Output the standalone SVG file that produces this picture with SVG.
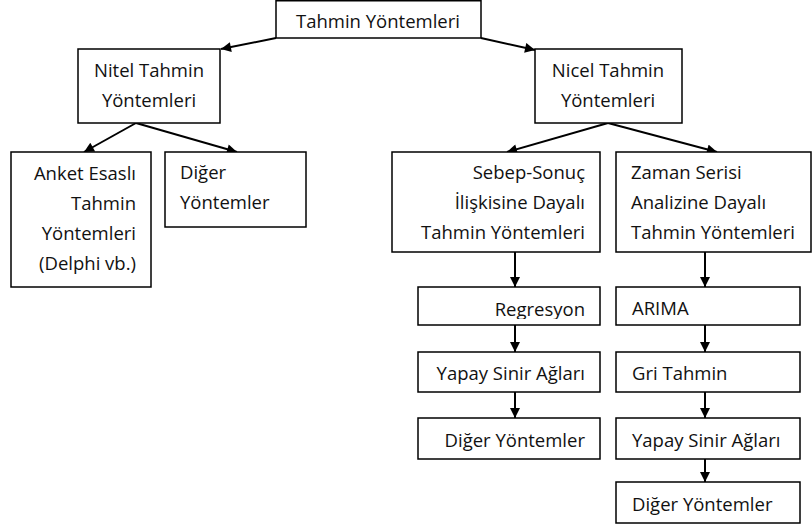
<svg xmlns="http://www.w3.org/2000/svg" width="812" height="527" viewBox="0 0 812 527">
  <style>
    .box { fill: #ffffff; stroke: #000000; stroke-width: 1.5; }
    .t { font-family: "Open Sans", "Liberation Sans", sans-serif; font-size: 18.5px; fill: #111111; }
    .mid { text-anchor: middle; }
    .end { text-anchor: end; }
    .link { stroke: #000000; stroke-width: 2; fill: none; marker-end: url(#head); }
  </style>
  <defs>
    <marker id="head" viewBox="0 0 10 10" refX="10" refY="5" markerWidth="12" markerHeight="10" markerUnits="userSpaceOnUse" orient="auto">
      <path d="M0,0 L10,5 L0,10 Z" fill="#000000"/>
    </marker>
    <clipPath id="regClip">
      <rect x="418" y="287" width="182" height="32"/>
    </clipPath>
  </defs>
  <rect width="812" height="527" fill="#ffffff"/>

  <!-- connectors -->
  <g id="connectors">
    <line class="link" x1="276" y1="38" x2="221" y2="49"/>
    <line class="link" x1="481" y1="38" x2="535" y2="50"/>
    <line class="link" x1="136" y1="123" x2="84" y2="152"/>
    <line class="link" x1="136" y1="123" x2="237" y2="152"/>
    <line class="link" x1="608" y1="123" x2="507" y2="152"/>
    <line class="link" x1="608" y1="123" x2="717" y2="152"/>
    <line class="link" x1="515" y1="252" x2="515" y2="287"/>
    <line class="link" x1="515" y1="325" x2="515" y2="352"/>
    <line class="link" x1="515" y1="392" x2="515" y2="418"/>
    <line class="link" x1="705" y1="252" x2="705" y2="287"/>
    <line class="link" x1="705" y1="325" x2="705" y2="352"/>
    <line class="link" x1="705" y1="392" x2="705" y2="418"/>
    <line class="link" x1="705" y1="459" x2="705" y2="482"/>
  </g>

  <g id="root">
    <rect class="box" x="276" y="0.75" width="205" height="37.25"/>
    <text class="t mid" x="378" y="28">Tahmin Yöntemleri</text>
  </g>

  <g id="nitel">
    <rect class="box" x="78" y="49" width="142" height="74"/>
    <text class="t mid" x="149" y="77">Nitel Tahmin</text>
    <text class="t mid" x="149" y="107">Yöntemleri</text>
  </g>

  <g id="nicel">
    <rect class="box" x="535" y="49" width="147" height="74"/>
    <text class="t mid" x="608" y="77">Nicel Tahmin</text>
    <text class="t mid" x="608" y="107">Yöntemleri</text>
  </g>

  <g id="anket">
    <rect class="box" x="11" y="152" width="140" height="135"/>
    <text class="t end" x="136" y="180">Anket Esaslı</text>
    <text class="t end" x="136" y="210">Tahmin</text>
    <text class="t end" x="136" y="240">Yöntemleri</text>
    <text class="t end" x="136" y="270">(Delphi vb.)</text>
  </g>

  <g id="nitel-diger">
    <rect class="box" x="165" y="152" width="141" height="75"/>
    <text class="t" x="180" y="179">Diğer</text>
    <text class="t" x="180" y="209">Yöntemler</text>
  </g>

  <g id="sebep-sonuc">
    <rect class="box" x="392" y="152" width="208" height="100"/>
    <text class="t end" x="585" y="179">Sebep-Sonuç</text>
    <text class="t end" x="585" y="209">İlişkisine Dayalı</text>
    <text class="t end" x="585" y="239">Tahmin Yöntemleri</text>
  </g>

  <g id="zaman-serisi">
    <rect class="box" x="616" y="152" width="195" height="100"/>
    <text class="t" x="631" y="179">Zaman Serisi</text>
    <text class="t" x="631" y="209">Analizine Dayalı</text>
    <text class="t" x="631" y="239">Tahmin Yöntemleri</text>
  </g>

  <g id="regresyon">
    <rect class="box" x="418" y="287" width="182" height="38"/>
    <text class="t end" x="585" y="316" clip-path="url(#regClip)">Regresyon</text>
  </g>

  <g id="yapay-sinir-1">
    <rect class="box" x="418" y="352" width="182" height="40"/>
    <text class="t end" x="585" y="380">Yapay Sinir Ağları</text>
  </g>

  <g id="diger-1">
    <rect class="box" x="418" y="418" width="182" height="41"/>
    <text class="t end" x="585" y="447">Diğer Yöntemler</text>
  </g>

  <g id="arima">
    <rect class="box" x="616" y="287" width="184" height="38"/>
    <text class="t" x="632" y="315">ARIMA</text>
  </g>

  <g id="gri-tahmin">
    <rect class="box" x="616" y="352" width="184" height="40"/>
    <text class="t" x="632" y="380">Gri Tahmin</text>
  </g>

  <g id="yapay-sinir-2">
    <rect class="box" x="616" y="418" width="184" height="41"/>
    <text class="t" x="632" y="447">Yapay Sinir Ağları</text>
  </g>

  <g id="diger-2">
    <rect class="box" x="616" y="482" width="184" height="41"/>
    <text class="t" x="632" y="511">Diğer Yöntemler</text>
  </g>
</svg>
